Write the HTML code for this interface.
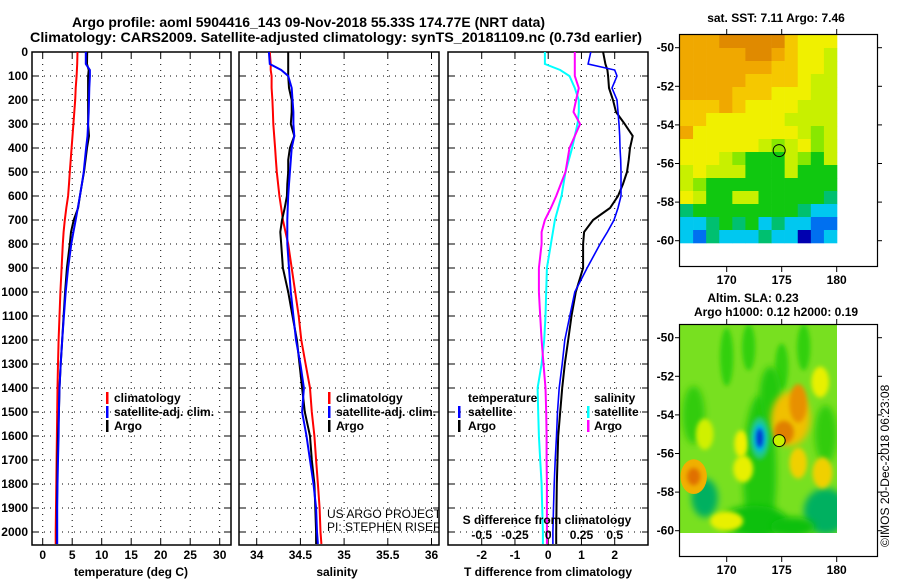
<!DOCTYPE html>
<html><head><meta charset="utf-8"><title>Argo profile</title>
<style>
html,body{margin:0;padding:0;background:#fff;width:900px;height:580px;overflow:hidden;}
svg{display:block;font-family:"Liberation Sans",sans-serif;}
.b{font-weight:bold;font-size:12px;}
</style></head>
<body>
<svg id="chart" xmlns="http://www.w3.org/2000/svg" width="900" height="580" viewBox="0 0 900 580">
<defs>
<filter id="blur4" x="-50%" y="-50%" width="200%" height="200%"><feGaussianBlur stdDeviation="3.5"/></filter>
<filter id="blur2" x="-50%" y="-50%" width="200%" height="200%"><feGaussianBlur stdDeviation="2"/></filter>
<clipPath id="clipP1"><rect x="32" y="52" width="199" height="493"/></clipPath>
<clipPath id="clipP2"><rect x="239" y="52" width="200" height="493"/></clipPath>
<clipPath id="clipP3"><rect x="448" y="52" width="200" height="493"/></clipPath>
<clipPath id="clipM2"><rect x="680" y="325" width="157" height="208"/></clipPath>
</defs>
<text x="72" y="27" font-size="14" font-weight="bold" textLength="473" lengthAdjust="spacingAndGlyphs">Argo profile: aoml 5904416_143 09-Nov-2018 55.33S 174.77E (NRT data)</text>
<text x="30" y="42" font-size="14" font-weight="bold" textLength="612" lengthAdjust="spacingAndGlyphs">Climatology: CARS2009. Satellite-adjusted climatology: synTS_20181109.nc (0.73d earlier)</text>
<g id="root"></g>
</svg>
<script>
// ---- data ----
const depths=[0,50,75,100,150,200,250,300,350,400,450,500,550,600,650,700,750,800,900,1000,1100,1200,1300,1400,1500,1600,1700,1800,1900,2000,2050];
const tempClim=[5.9,5.85,5.8,5.75,5.6,5.5,5.35,5.2,5.05,4.9,4.75,4.6,4.45,4.3,4.0,3.75,3.55,3.4,3.2,3.0,2.85,2.7,2.6,2.5,2.45,2.4,2.35,2.3,2.25,2.2,2.2];
const tempSat=[7.3,7.3,8.0,8.0,7.9,7.85,7.8,7.7,7.6,7.35,7.15,6.95,6.65,6.3,5.95,5.6,5.2,4.85,4.3,3.9,3.6,3.3,3.05,2.85,2.75,2.7,2.6,2.5,2.45,2.45,2.45];
const tempArgo=[7.55,7.5,7.8,7.7,7.7,7.7,7.7,7.7,7.85,7.5,7.25,7.0,6.65,6.3,6.0,5.25,4.8,4.6,4.1,3.8,3.55,3.3,3.05,2.85,2.75,2.6,2.5,2.45,2.4,2.4,2.4];
const salClim=[34.15,34.16,34.16,34.17,34.17,34.18,34.185,34.19,34.2,34.21,34.22,34.23,34.245,34.26,34.28,34.30,34.33,34.36,34.40,34.44,34.48,34.51,34.56,34.61,34.63,34.66,34.68,34.70,34.72,34.73,34.74];
const salSat=[34.14,34.15,34.28,34.36,34.40,34.41,34.42,34.42,34.43,34.40,34.39,34.38,34.37,34.36,34.355,34.35,34.35,34.35,34.37,34.39,34.42,34.45,34.5,34.54,34.52,34.57,34.61,34.65,34.68,34.69,34.70];
const salArgo=[34.36,34.36,34.36,34.36,34.37,34.40,34.40,34.39,34.43,34.38,34.36,34.36,34.35,34.345,34.32,34.29,34.27,34.28,34.30,34.36,34.41,34.46,34.49,34.52,34.55,34.61,34.63,34.66,34.67,34.68,34.68];
const tDiffSat=[1.28,1.2,2.0,2.07,1.92,2.07,2.1,2.13,2.15,2.16,2.18,2.19,2.19,2.19,2.1,1.98,1.78,1.56,1.17,0.8,0.65,0.5,0.42,0.33,0.28,0.25,0.21,0.18,0.16,0.14,0.14];
const tDiffArgo=[1.65,1.72,1.78,1.8,1.83,1.95,2.04,2.3,2.54,2.46,2.42,2.37,2.25,2.1,1.86,1.35,1.08,1.05,1.05,0.83,0.7,0.6,0.5,0.42,0.36,0.3,0.28,0.26,0.25,0.24,0.24];
const sDiffSat=[-0.025,-0.025,0.09,0.16,0.2,0.23,0.23,0.22,0.2,0.18,0.155,0.13,0.115,0.1,0.075,0.05,0.035,0.02,-0.01,-0.015,-0.02,-0.03,-0.05,-0.08,-0.075,-0.07,-0.06,-0.05,-0.045,-0.04,-0.04];
const sDiffArgo=[0.2,0.2,0.2,0.2,0.23,0.21,0.19,0.24,0.2,0.16,0.145,0.13,0.095,0.06,0.02,-0.025,-0.05,-0.05,-0.07,-0.07,-0.06,-0.05,-0.035,-0.02,-0.015,-0.012,-0.012,-0.01,-0.01,-0.01,-0.01];
const depthTicks=[0,100,200,300,400,500,600,700,800,900,1000,1100,1200,1300,1400,1500,1600,1700,1800,1900,2000];
const tempTicks=[0,5,10,15,20,25,30];
const salTicks=[34,34.5,35,35.5,36];
const salTickLabels=["34","34.5","35","35.5","36"];
const tDiffTicks=[-2,-1,0,1,2];
const sDiffTicks=[-0.5,-0.25,0,0.25,0.5];
const sDiffTickLabels=["-0.5","-0.25","0","0.25","0.5"];
const latTicks=[-50,-52,-54,-56,-58,-60];
const lonTicks=[170,175,180];
const argoLon=174.77, argoLat=-55.33;
const sstRows=["OOODDDDDoYYY","OOOOODDOoYYy","OOOOOOOooYYy","OOOOOooooYyy","OOOOoooYYYyy","oooOoYYYYyyy","ooYYYYYYyyyy","OYYYYYYYYyLy","YYYYYYyLyYLy","YYYyLGGGyLGy","yYyyyGGGyGGG","yLGGGGGGGGGG","YyGGyyGGGGGg","gGGGGGGGGgCC","CCgGgGCgCCBB","CBgCCCgCCKBC"];
const sstColors={D:"#e08a00",O:"#f0a800",o:"#f5c800",Y:"#f0f000",y:"#c8f000",L:"#88e800",G:"#10c810",g:"#00c070",C:"#00c8f0",B:"#0070f0",K:"#0000b0"};

// ---- helpers / scales ----
const NS="http://www.w3.org/2000/svg";
const root=document.getElementById('root');
function mk(tag,attrs,parent){const e=document.createElementNS(NS,tag);for(const k in attrs)e.setAttribute(k,attrs[k]);(parent||root).appendChild(e);return e;}
const Y0=52, PXM=0.24;
function yD(d){return Y0+d*PXM;}
function xT(v){return 42.7+v*5.9;}
function xS(v){return 256.7+(v-34)*87.4;}
function xTd(v){return 548.2+v*33.25;}
function xSd(v){return 548.2+v*133;}
function mapX(lon){return 726.7+(lon-170)*11;}
function mapY(lat,off){return 47.7+off+(-50-lat)*19.3;}

function panel(name,x0,x1,xs,ticks,labels,clip){
  const g=mk('g',{});
  
  
  depthTicks.forEach(d=>{
    const l=mk('line',{x1:x0,x2:x1,y1:yD(d),y2:yD(d),stroke:'#000','stroke-width':1,'stroke-dasharray':'1,5'},g);
    
    
    const t1=mk('line',{x1:x0,x2:x0+6,y1:yD(d),y2:yD(d),stroke:'#000'},g);
    
    
    const t2=mk('line',{x1:x1-6,x2:x1,y1:yD(d),y2:yD(d),stroke:'#000'},g);
    
    
  });
  ticks.forEach((v,i)=>{
    const x=xs(v);
    const l=mk('line',{x1:x,x2:x,y1:Y0,y2:545,stroke:'#000','stroke-width':1,'stroke-dasharray':'1,5'},g);
    
    
    const tk=mk('line',{x1:x,x2:x,y1:539,y2:545,stroke:'#000'},g);
    
    
    const tk2=mk('line',{x1:x,x2:x,y1:Y0,y2:Y0+6,stroke:'#000'},g);
    
    
    const t=mk('text',{x:x,y:559,'text-anchor':'middle',class:'b'},g);
    t.textContent=labels?labels[i]:String(v);
    
    
  });
  const r=mk('rect',{x:x0,y:Y0,width:x1-x0,height:545-Y0,fill:'none',stroke:'#000','stroke-width':1.5},g);
  
  
  const lg=mk('g',{'clip-path':'url(#'+clip+')'},g);
  return lg;
}
function series(g,vals,xs,color,name,w){
  const pts=vals.map((v,i)=>xs(v).toFixed(1)+','+yD(depths[i]).toFixed(1)).join(' ');
  const p=mk('polyline',{points:pts,fill:'none',stroke:color,'stroke-width':w||2},g);
  
  
}
function txt(x,y,s,name,attrs){
  const t=mk('text',Object.assign({x:x,y:y,class:'b'},attrs||{}));
  t.textContent=s;
  
  
  return t;
}
function legendBar(x,y,color,name){
  const r=mk('rect',{x:x,y:y-10,width:2.5,height:12,fill:color});
  
  
}

depthTicks.forEach(d=>{ txt(28,yD(d)+4,String(d),'depth-tick-label',{'text-anchor':'end'}); });

// Panel 1 temperature
const g1=panel('temperature-panel',32,231,xT,tempTicks,null,'clipP1');
series(g1,tempClim,xT,'#ff0000','temperature-climatology-line');
series(g1,tempArgo,xT,'#000000','temperature-argo-line');
series(g1,tempSat,xT,'#0000ff','temperature-satellite-line');
txt(131,576,'temperature (deg C)','temperature-axis-title',{'text-anchor':'middle'});
legendBar(106,402,'#ff0000','legend-climatology-swatch'); txt(114,402,'climatology','legend-climatology-label');
legendBar(106,416,'#0000ff','legend-satellite-swatch'); txt(114,416,'satellite-adj. clim.','legend-satellite-label');
legendBar(106,430,'#000000','legend-argo-swatch'); txt(114,430,'Argo','legend-argo-label');

// Panel 2 salinity
const g2=panel('salinity-panel',239,439,xS,salTicks,salTickLabels,'clipP2');
series(g2,salClim,xS,'#ff0000','salinity-climatology-line');
series(g2,salArgo,xS,'#000000','salinity-argo-line');
series(g2,salSat,xS,'#0000ff','salinity-satellite-line');
txt(337,576,'salinity','salinity-axis-title',{'text-anchor':'middle'});
legendBar(328,402,'#ff0000','legend-climatology-swatch'); txt(336,402,'climatology','legend-climatology-label');
legendBar(328,416,'#0000ff','legend-satellite-swatch'); txt(336,416,'satellite-adj. clim.','legend-satellite-label');
legendBar(328,430,'#000000','legend-argo-swatch'); txt(336,430,'Argo','legend-argo-label');
const cred=mk('g',{'clip-path':'url(#clipP2)'});


const c1=mk('text',{x:327,y:518,'font-size':'12'},cred); c1.textContent='US ARGO PROJECT';
 
const c2=mk('text',{x:327,y:531,'font-size':'12'},cred); c2.textContent='PI: STEPHEN RISER';
 

// Panel 3 differences
const g3=panel('difference-panel',448,648,xTd,tDiffTicks,null,'clipP3');
series(g3,sDiffSat,xSd,'#00ffff','sdiff-satellite-line');
series(g3,sDiffArgo,xSd,'#ff00ff','sdiff-argo-line');
series(g3,tDiffArgo,xTd,'#000000','tdiff-argo-line');
series(g3,tDiffSat,xTd,'#0000ff','tdiff-satellite-line',1.6);
txt(548,576,'T difference from climatology','tdiff-axis-title',{'text-anchor':'middle'});
txt(547,524,'S difference from climatology','sdiff-axis-title',{'text-anchor':'middle'});
sDiffTicks.forEach((v,i)=>{ txt(xSd(v),539,sDiffTickLabels[i],'sdiff-tick-label',{'text-anchor':'middle'}); });
txt(468,402,'temperature','legend-temperature-header');
legendBar(458,416,'#0000ff','legend-tdiff-satellite-swatch'); txt(468,416,'satellite','legend-tdiff-satellite-label');
legendBar(458,430,'#000000','legend-tdiff-argo-swatch'); txt(468,430,'Argo','legend-tdiff-argo-label');
txt(594,402,'salinity','legend-salinity-header');
legendBar(587,416,'#00ffff','legend-sdiff-satellite-swatch'); txt(594,416,'satellite','legend-sdiff-satellite-label');
legendBar(587,430,'#ff00ff','legend-sdiff-argo-swatch'); txt(594,430,'Argo','legend-sdiff-argo-label');

// ---- maps ----
function mapAxes(off,name){
  const g=mk('g',{});
  
  
  const r=mk('rect',{x:679.5,y:34.5+off,width:198,height:232,fill:'none',stroke:'#000','stroke-width':1.2},g);
  
  
  latTicks.forEach(l=>{
    const y=mapY(l,off);
    const t=mk('line',{x1:675,x2:680,y1:y,y2:y,stroke:'#000'},g);
     
    const t2=mk('line',{x1:877,x2:882,y1:y,y2:y,stroke:'#000'},g);
     
    const s=mk('text',{x:674,y:y+4,'text-anchor':'end',class:'b'},g); s.textContent=String(l);
     
  });
  lonTicks.forEach(l=>{
    const x=mapX(l);
    const t=mk('line',{x1:x,x2:x,y1:29+off,y2:34+off,stroke:'#000'},g);
     
    const t2=mk('line',{x1:x,x2:x,y1:267+off,y2:272+off,stroke:'#000'},g);
     
    const s=mk('text',{x:x,y:284+off,'text-anchor':'middle',class:'b'},g); s.textContent=String(l);
     
  });
  const c=mk('circle',{cx:mapX(argoLon),cy:mapY(argoLat,off),r:6,fill:off?'#c8f000':'none',stroke:'#000','stroke-width':1},g);
   
}
const sst=mk('g',{});


const cw=157/12, rh=13;
sstRows.forEach((row,ri)=>{
  for(let ci=0;ci<row.length;ci++){
    const r=mk('rect',{x:(680+ci*cw).toFixed(2),y:35+ri*rh,width:(cw+0.3).toFixed(2),height:rh+0.3,fill:sstColors[row[ci]]},sst);
    
    
  }
});
mapAxes(0,'sst-map');
txt(776,22,'sat. SST: 7.11 Argo: 7.46','sst-map-title',{'text-anchor':'middle'});

const sla=mk('g',{'clip-path':'url(#clipM2)'});


const bg=mk('rect',{x:680,y:325,width:157,height:208,fill:'#78e020'},sla);
 
const blobs=[
 [173,-57,1.5,4,'#20c810',4],[168,-58.3,1.2,1,'#00b060',4],[179,-59,2,1.2,'#00b060',4],[172.5,-59.5,3,0.8,'#10c010',4],[176,-59.8,2,0.5,'#10c010',4],
 [167,-54,1,1.5,'#30cc10',4],[170,-51,0.6,1.5,'#30d010',2],[172,-50.5,0.6,1.2,'#30d010',2],[175,-51.5,0.6,1.2,'#30d010',2],[177,-50.5,0.6,1.2,'#30d010',2],[179,-55,1,1.5,'#30cc10',4],[174,-53,1,1.5,'#20c810',4],
 [171.5,-56.8,0.9,0.7,'#e8f000',2],[176.5,-56.5,0.8,0.8,'#f0d000',2],[178.7,-57,0.9,0.8,'#f0d000',2],[171.3,-55.5,0.6,0.7,'#f0f000',2],[178.5,-52.3,0.8,0.8,'#e8f000',2],[170,-59.5,1.5,0.5,'#e8f000',2],[168,-55,0.8,0.8,'#d0f000',2],
 [175.8,-54.2,1.8,1.4,'#f0c000',4],[176.5,-53.4,0.8,1.0,'#e89000',2],[175.2,-54.9,0.9,0.6,'#e08000',2],
 [167,-57.2,1.2,0.9,'#f0b000',3],[167,-57.2,0.6,0.45,'#e07000',2],
 [173,-55.2,0.9,1.1,'#20c880',2],[173,-55.2,0.55,0.75,'#00c0e0',2],[173,-55.2,0.3,0.5,'#0030d0',2]
];
blobs.forEach(b=>{
  const e=mk('ellipse',{cx:mapX(b[0]),cy:mapY(b[1],290),rx:b[2]*11,ry:b[3]*19.3,fill:b[4],filter:'url(#blur'+b[5]+')'},sla);
  
  
});
mapAxes(290,'sla-map');
txt(753,302,'Altim. SLA: 0.23','sla-map-title',{'text-anchor':'middle'});
txt(776,316,'Argo h1000: 0.12 h2000: 0.19','argo-height-title',{'text-anchor':'middle'});
const cp=mk('text',{x:0,y:0,'font-size':'12',transform:'translate(889,547) rotate(-90)'});
cp.textContent='©IMOS 20-Dec-2018 06:23:08';


</script>
</body></html>
